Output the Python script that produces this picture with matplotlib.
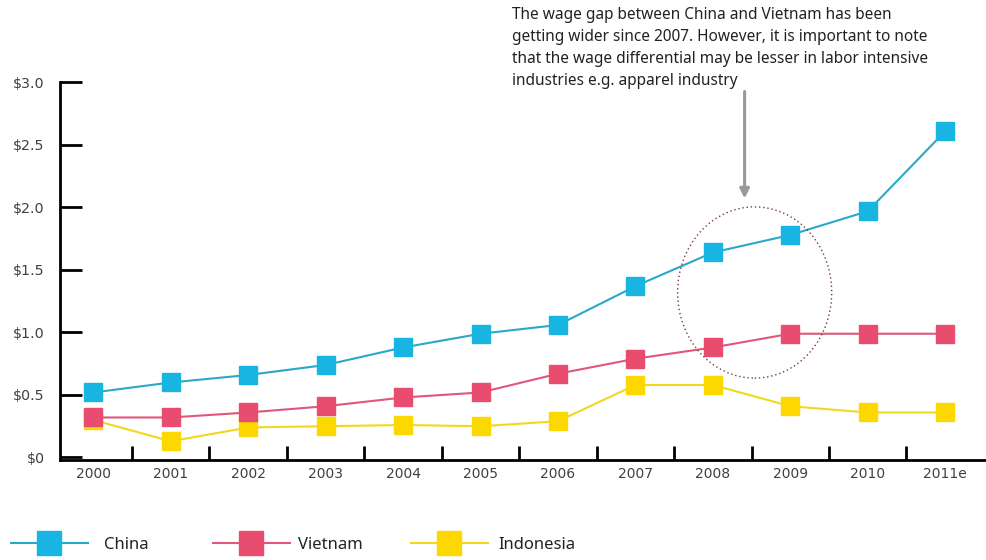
import numpy as np
import matplotlib.pyplot as plt
from matplotlib.patches import Ellipse

years = ["2000", "2001", "2002", "2003", "2004", "2005",
         "2006", "2007", "2008", "2009", "2010", "2011e"]
china = [0.52, 0.60, 0.66, 0.74, 0.88, 0.99, 1.06, 1.37, 1.64, 1.78, 1.97, 2.61]
vietnam = [0.32, 0.32, 0.36, 0.41, 0.48, 0.52, 0.67, 0.79, 0.88, 0.99, 0.99, 0.99]
indonesia = [0.30, 0.13, 0.24, 0.25, 0.26, 0.25, 0.29, 0.58, 0.58, 0.41, 0.36, 0.36]
yticks = [0, 0.5, 1.0, 1.5, 2.0, 2.5, 3.0]
ylabels = ["$0", "$0.5", "$1.0", "$1.5", "$2.0", "$2.5", "$3.0"]

note = ("The wage gap between China and Vietnam has been\n"
        "getting wider since 2007. However, it is important to note\n"
        "that the wage differential may be lesser in labor intensive\n"
        "industries e.g. apparel industry")

plt.rcParams['font.family'] = ['Noto Sans', 'DejaVu Sans']

fig = plt.figure(figsize=(9.87, 5.6), dpi=100)
ax = fig.add_axes([0.0608, 0.1786, 0.9392, 0.6741])

x = np.arange(len(years))
l_ind, = ax.plot(x, indonesia, color="#f2d81c", lw=1.5, marker="s", ms=13,
                 mfc="#fcd800", mec="#fcd800", label="Indonesia", zorder=3)
l_vn, = ax.plot(x, vietnam, color="#e0577a", lw=1.5, marker="s", ms=13,
                mfc="#e84d6f", mec="#e84d6f", label="Vietnam", zorder=4)
l_cn, = ax.plot(x, china, color="#2aa8c8", lw=1.5, marker="s", ms=13,
                mfc="#18b4e2", mec="#18b4e2", label="China", zorder=5)

ax.set_xlim(-0.43, 11.54)
ax.set_ylim(-0.02, 3.0)
ax.set_yticks(yticks)
ax.set_yticklabels(ylabels, family="DejaVu Sans")
ax.set_xticks(x[:-1] + 0.5)
ax.set_xticklabels([])
ax.set_xticks(x, minor=True)
ax.set_xticklabels(years, minor=True, family="DejaVu Sans")
ax.tick_params(axis="x", which="major", direction="in", length=10, width=2)
ax.tick_params(axis="x", which="minor", length=0, pad=5, labelsize=10,
               labelcolor="#404040")
ax.tick_params(axis="y", direction="in", length=16, width=2, pad=11,
               labelsize=10.3, labelcolor="#404040")
for s in ["top", "right"]:
    ax.spines[s].set_visible(False)
ax.spines["left"].set_linewidth(2)
ax.spines["bottom"].set_linewidth(2)

# dotted circle around 2008-2009
ax.add_patch(Ellipse((8.54, 1.32), 1.99, 1.37, fill=False, ls=(0, (1, 2)),
                     ec="#7a3b3b", lw=1.0, zorder=6))

# arrow and note
ax.annotate("", xy=(8.41, 2.05), xytext=(8.41, 2.95),
            arrowprops=dict(arrowstyle="-|>", color="#999999", lw=2.2,
                            mutation_scale=14), annotation_clip=False)
fig.text(0.519, 0.988, note, ha="left", va="top", fontsize=11.1,
         color="#222222", linespacing=1.5)

# legend, one entry at a time
for line, x0, pad in [(l_cn, 11, 1.0), (l_vn, 213, 0.5), (l_ind, 411, 0.65)]:
    lg = fig.legend(handles=[line], loc="center left",
                    bbox_to_anchor=(x0 / 987, 1 - 545 / 560),
                    borderaxespad=0, borderpad=0, frameon=False, fontsize=12,
                    handlelength=4.6, handletextpad=pad, markerscale=1.3)
    lg.get_texts()[0].set_color("#222222")

fig.savefig("out.png", dpi=100)
